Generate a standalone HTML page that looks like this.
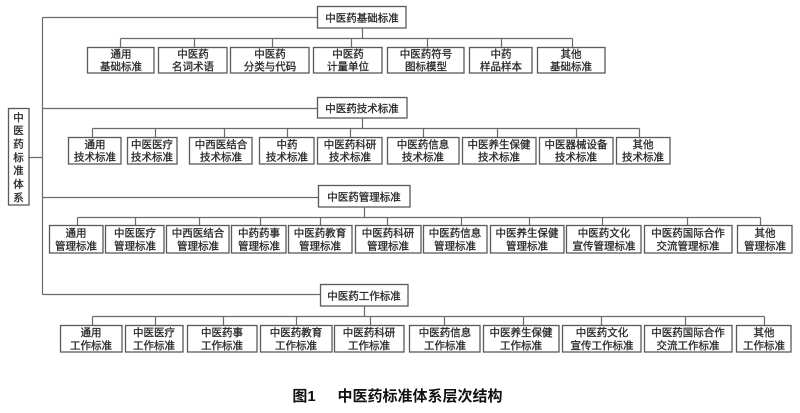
<!DOCTYPE html>
<html><head><meta charset="utf-8"><style>
html,body{margin:0;padding:0;background:#fff;}
svg{display:block;}
text{font-family:"Liberation Sans","Noto Sans CJK SC",sans-serif;fill:#2a2a2a;stroke:#2a2a2a;stroke-width:0.3;font-size:10.5px;text-anchor:middle;}
.b{fill:#fff;stroke:#5a5a5a;stroke-width:1.3;}
.l{stroke:#6a6a6a;stroke-width:1.2;fill:none;}
</style></head><body>
<svg width="800" height="413" viewBox="0 0 800 413" xmlns="http://www.w3.org/2000/svg">
<path class="l" d="M42.5 17.5V294.5M42.5 17.5H317M42.5 108.5H317M42.5 197.5H318M42.5 294.5H320M29 157.5H42.5"/>
<rect class="b" x="8.5" y="108.5" width="20.5" height="96.5"/>
<g style="font-size:11px">
<text x="18.5" y="121">中</text><text x="18.5" y="134">医</text><text x="18.5" y="147.5">药</text><text x="18.5" y="161">标</text><text x="18.5" y="174">准</text><text x="18.5" y="187.5">体</text><text x="18.5" y="201">系</text>
</g>

<rect class="b" x="317.5" y="6.5" width="88.5" height="21.5"/>
<text x="362" y="21.5">中医药基础标准</text>
<path class="l" d="M362.5 28V38.5M120.5 38.5H572.5M120.5 38.5V47M194.5 38.5V47M272.5 38.5V47M351.5 38.5V47M427.5 38.5V47M501.5 38.5V47M572.5 38.5V47"/>
<rect class="b" x="87.5" y="47.5" width="66.5" height="25.5"/><text x="121" y="57.5">通用</text><text x="121" y="70">基础标准</text>
<rect class="b" x="158.5" y="47.5" width="68.5" height="25.5"/><text x="193" y="57.5">中医药</text><text x="193" y="70">名词术语</text>
<rect class="b" x="230.5" y="47.5" width="78.5" height="25.5"/><text x="270" y="57.5">中医药</text><text x="270" y="70">分类与代码</text>
<rect class="b" x="313.5" y="47.5" width="68.5" height="25.5"/><text x="348" y="57.5">中医药</text><text x="348" y="70">计量单位</text>
<rect class="b" x="387.5" y="47.5" width="76.5" height="25.5"/><text x="426" y="57.5">中医药符号</text><text x="426" y="70">图标模型</text>
<rect class="b" x="469.5" y="47.5" width="62.5" height="25.5"/><text x="501" y="57.5">中药</text><text x="501" y="70">样品样本</text>
<rect class="b" x="537.5" y="47.5" width="67.5" height="25.5"/><text x="571" y="57.5">其他</text><text x="571" y="70">基础标准</text>

<rect class="b" x="317.5" y="97.5" width="89.5" height="20.5"/>
<text x="362" y="112">中医药技术标准</text>
<path class="l" d="M362.5 118V128.5M92.5 128.5H639.5M92.5 128.5V137M155.5 128.5V137M224.5 128.5V137M287.5 128.5V137M350.5 128.5V137M423.5 128.5V137M497.5 128.5V137M576.5 128.5V137M639.5 128.5V137"/>
<rect class="b" x="68.5" y="137.5" width="52.5" height="26.5"/><text x="95" y="148">通用</text><text x="95" y="160.5">技术标准</text>
<rect class="b" x="127.5" y="137.5" width="49.5" height="26.5"/><text x="152" y="148">中医医疗</text><text x="152" y="160.5">技术标准</text>
<rect class="b" x="189.5" y="137.5" width="62.5" height="26.5"/><text x="221" y="148">中西医结合</text><text x="221" y="160.5">技术标准</text>
<rect class="b" x="259.5" y="137.5" width="54.5" height="26.5"/><text x="287" y="148">中药</text><text x="287" y="160.5">技术标准</text>
<rect class="b" x="317.5" y="137.5" width="64.5" height="26.5"/><text x="350" y="148">中医药科研</text><text x="350" y="160.5">技术标准</text>
<rect class="b" x="387.5" y="137.5" width="71.5" height="26.5"/><text x="423" y="148">中医药信息</text><text x="423" y="160.5">技术标准</text>
<rect class="b" x="462.5" y="137.5" width="73.5" height="26.5"/><text x="499" y="148">中医养生保健</text><text x="499" y="160.5">技术标准</text>
<rect class="b" x="539.5" y="137.5" width="73.5" height="26.5"/><text x="576" y="148">中医器械设备</text><text x="576" y="160.5">技术标准</text>
<rect class="b" x="616.5" y="137.5" width="53.5" height="26.5"/><text x="643" y="148">其他</text><text x="643" y="160.5">技术标准</text>

<rect class="b" x="318.5" y="185.5" width="91.5" height="21.5"/>
<text x="364" y="200.5">中医药管理标准</text>
<path class="l" d="M364.5 207V217.5M77.5 217.5H760.5M77.5 217.5V225M135.5 217.5V225M199.5 217.5V225M260.5 217.5V225M320.5 217.5V225M387.5 217.5V225M461.5 217.5V225M529.5 217.5V225M602.5 217.5V225M687.5 217.5V225M760.5 217.5V225"/>
<rect class="b" x="49.5" y="225.5" width="53.5" height="27.5"/><text x="76" y="236.5">通用</text><text x="76" y="249.5">管理标准</text>
<rect class="b" x="105.5" y="225.5" width="58.5" height="27.5"/><text x="135" y="236.5">中医医疗</text><text x="135" y="249.5">管理标准</text>
<rect class="b" x="166.5" y="225.5" width="62.5" height="27.5"/><text x="198" y="236.5">中西医结合</text><text x="198" y="249.5">管理标准</text>
<rect class="b" x="231.5" y="225.5" width="54.5" height="27.5"/><text x="259" y="236.5">中药药事</text><text x="259" y="249.5">管理标准</text>
<rect class="b" x="288.5" y="225.5" width="63.5" height="27.5"/><text x="320" y="236.5">中医药教育</text><text x="320" y="249.5">管理标准</text>
<rect class="b" x="355.5" y="225.5" width="65.5" height="27.5"/><text x="388" y="236.5">中医药科研</text><text x="388" y="249.5">管理标准</text>
<rect class="b" x="423.5" y="225.5" width="63.5" height="27.5"/><text x="455" y="236.5">中医药信息</text><text x="455" y="249.5">管理标准</text>
<rect class="b" x="490.5" y="225.5" width="73.5" height="27.5"/><text x="527" y="236.5">中医养生保健</text><text x="527" y="249.5">管理标准</text>
<rect class="b" x="566.5" y="225.5" width="74.5" height="27.5"/><text x="604" y="236.5">中医药文化</text><text x="604" y="249.5">宣传管理标准</text>
<rect class="b" x="644.5" y="225.5" width="87.5" height="27.5"/><text x="688" y="236.5">中医药国际合作</text><text x="688" y="249.5">交流管理标准</text>
<rect class="b" x="737.5" y="225.5" width="54.5" height="27.5"/><text x="765" y="236.5">其他</text><text x="765" y="249.5">管理标准</text>

<rect class="b" x="320.5" y="284.5" width="87.5" height="21.5"/>
<text x="364" y="299.5">中医药工作标准</text>
<path class="l" d="M364.5 306V316.5M92.5 316.5H764.5M92.5 316.5V325M155.5 316.5V325M223.5 316.5V325M296.5 316.5V325M370.5 316.5V325M444.5 316.5V325M523.5 316.5V325M601.5 316.5V325M685.5 316.5V325M764.5 316.5V325"/>
<rect class="b" x="60.5" y="325.5" width="61.5" height="26.5"/><text x="91" y="336">通用</text><text x="91" y="349">工作标准</text>
<rect class="b" x="125.5" y="325.5" width="57.5" height="26.5"/><text x="154" y="336">中医医疗</text><text x="154" y="349">工作标准</text>
<rect class="b" x="187.5" y="325.5" width="69.5" height="26.5"/><text x="222" y="336">中医药事</text><text x="222" y="349">工作标准</text>
<rect class="b" x="260.5" y="325.5" width="71.5" height="26.5"/><text x="296" y="336">中医药教育</text><text x="296" y="349">工作标准</text>
<rect class="b" x="334.5" y="325.5" width="69.5" height="26.5"/><text x="369" y="336">中医药科研</text><text x="369" y="349">工作标准</text>
<rect class="b" x="409.5" y="325.5" width="70.5" height="26.5"/><text x="445" y="336">中医药信息</text><text x="445" y="349">工作标准</text>
<rect class="b" x="483.5" y="325.5" width="75.5" height="26.5"/><text x="521" y="336">中医养生保健</text><text x="521" y="349">工作标准</text>
<rect class="b" x="562.5" y="325.5" width="78.5" height="26.5"/><text x="602" y="336">中医药文化</text><text x="602" y="349">宣传工作标准</text>
<rect class="b" x="644.5" y="325.5" width="87.5" height="26.5"/><text x="688" y="336">中医药国际合作</text><text x="688" y="349">交流工作标准</text>
<rect class="b" x="736.5" y="325.5" width="54.5" height="26.5"/><text x="764" y="336">其他</text><text x="764" y="349">工作标准</text>

<text x="304" y="401" style="font-size:15px;font-weight:bold;fill:#111;stroke:none">图1</text>
<text x="420" y="401" style="font-size:15px;font-weight:bold;fill:#111;stroke:none">中医药标准体系层次结构</text>
</svg>
</body></html>
